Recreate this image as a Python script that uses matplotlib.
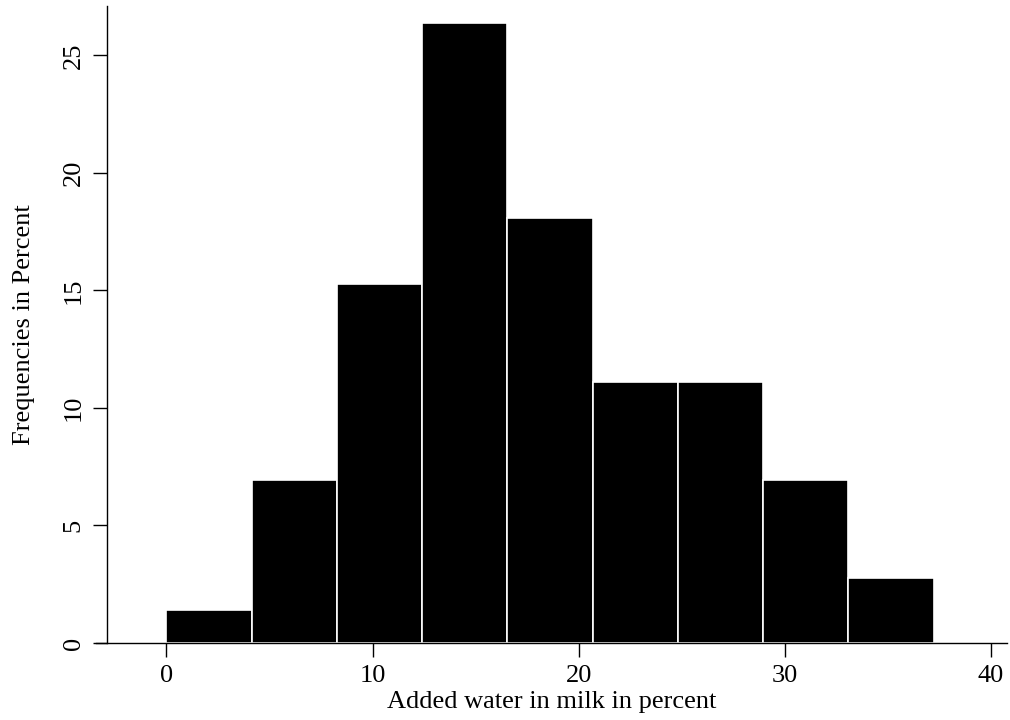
import matplotlib
matplotlib.use("Agg")
import matplotlib.pyplot as plt
import numpy as np

bin_start = 0.0
bin_width = 4.135
percents = [1.39, 6.94, 15.28, 26.39, 18.06, 11.11, 11.11, 6.94, 2.78]
xticks = [0, 10, 20, 30, 40]
yticks = [0, 5, 10, 15, 20, 25]
xlabel = "Added water in milk in percent"
ylabel = "Frequencies in Percent"

plt.rcParams['font.family'] = ['Liberation Serif', 'DejaVu Serif']

fig = plt.figure(figsize=(10.1, 7.2), dpi=100)
ax = fig.add_axes([96/1010, (720-643)/720, (1007-96)/1010, (643-6)/720])

lefts = bin_start + bin_width * np.arange(len(percents))
ax.bar(lefts, percents, width=bin_width, align='edge', color='black',
       edgecolor='white', linewidth=1.2)

ax.set_xlim(-3.41, 40.77)
ax.set_ylim(0, 27.1)
ax.spines['top'].set_visible(False)
ax.spines['right'].set_visible(False)
ax.spines['left'].set_position(('data', -2.88))
for s in ('left', 'bottom'):
    ax.spines[s].set_linewidth(1.0)
    ax.spines[s].set_color('black')

ax.set_xticks(xticks)
ax.set_yticks(yticks)
ax.tick_params(axis='both', direction='out', length=10, width=1.0,
               labelsize=19, pad=6)
for lab in ax.get_yticklabels():
    lab.set_rotation(90)
    lab.set_va('center')

ax.set_xlabel(xlabel, fontsize=19, labelpad=3)
ax.set_ylabel(ylabel, fontsize=19, labelpad=20)

fig.savefig("out.png", dpi=100)
